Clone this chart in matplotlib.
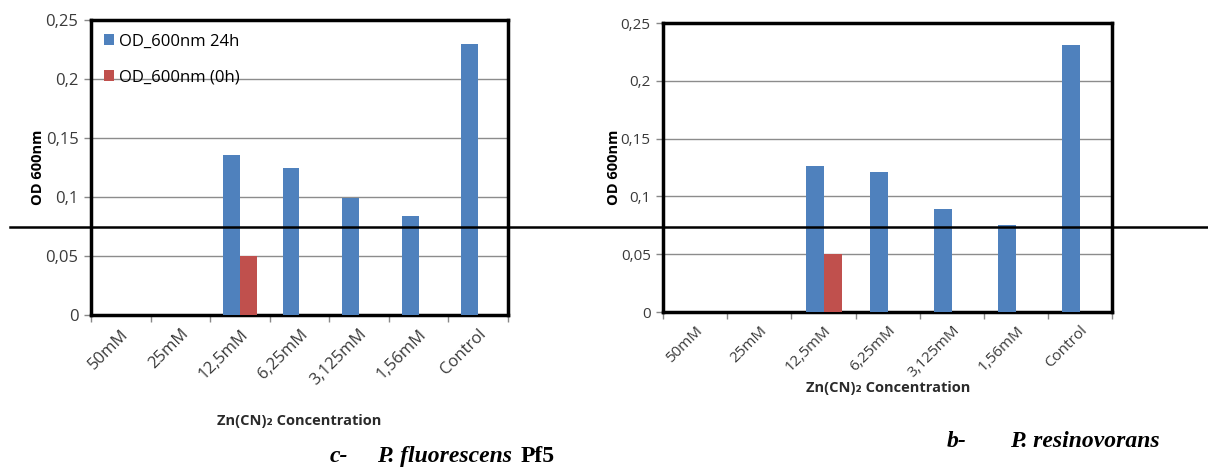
import numpy as np
import matplotlib.pyplot as plt
from matplotlib.lines import Line2D

categories = ["50mM", "25mM", "12,5mM", "6,25mM", "3,125mM", "1,56mM", "Control"]
yticks = [0, 0.05, 0.1, 0.15, 0.2, 0.25]
ytick_labels = ["0", "0,05", "0,1", "0,15", "0,2", "0,25"]

# panel c: P. fluorescens Pf5
pf5_24h = [0, 0, 0.136, 0.125, 0.099, 0.084, 0.230]
pf5_0h = [0, 0, 0.050, 0, 0, 0, 0]

# panel b: P. resinovorans
res_24h = [0, 0, 0.126, 0.121, 0.089, 0.075, 0.231]
res_0h = [0, 0, 0.050, 0, 0, 0, 0]

BLUE = "#4f81bd"
RED = "#c0504d"
TXT = "#3a3a3a"
FONT = ["Open Sans", "DejaVu Sans"]
SERIF = "Liberation Serif"


def draw_panel(ax, s24, s0, show_legend, xlabel_pad, fs):
    x = np.arange(len(categories))
    w = 0.28
    ax.bar(x - w / 2, s24, w, color=BLUE, label="OD_600nm 24h", zorder=3)
    ax.bar(x + w / 2, s0, w, color=RED, label="OD_600nm (0h)", zorder=3)
    ax.set_xlim(-0.5, len(categories) - 0.5)
    ax.set_ylim(0, 0.25)
    ax.set_yticks(yticks)
    ax.set_yticklabels(ytick_labels, fontsize=fs, color=TXT, family=FONT)
    ax.set_xticks(x)
    ax.set_xticklabels(categories, rotation=45, ha="right", rotation_mode="anchor",
                       fontsize=fs, color=TXT, family=FONT)
    ax.tick_params(axis="x", length=0, pad=8)
    ax.set_xticks(np.arange(len(categories) + 1) - 0.5, minor=True)
    ax.tick_params(axis="x", which="minor", length=5, color="#888888", width=1)
    ax.tick_params(axis="y", length=5, color="#888888", width=1, pad=4)
    ax.grid(axis="y", color="#8c8c8c", linewidth=1, zorder=0)
    for sp in ax.spines.values():
        sp.set_color("black")
        sp.set_linewidth(2.5)
    ax.set_ylabel("OD 600nm", fontsize=10.5, fontweight="bold", family=FONT)
    ax.set_xlabel("Zn(CN)\u2082 Concentration", fontsize=10.5, fontweight="bold",
                  color="#2a2a2a", family=FONT, labelpad=xlabel_pad)
    if show_legend:
        ax.legend(loc="upper left", frameon=False, handlelength=0.6,
                  handleheight=0.6, handletextpad=0.3, labelspacing=1.2,
                  borderaxespad=0.4, prop={"family": FONT, "size": fs})


fig = plt.figure(figsize=(12.08, 4.68), dpi=100)
ax1 = fig.add_axes([0.0753, 0.327, 0.3452, 0.630])
ax2 = fig.add_axes([0.549, 0.3333, 0.3717, 0.6175])

draw_panel(ax1, pf5_24h, pf5_0h, True, 18, 12)
draw_panel(ax2, res_24h, res_0h, False, 0, 11)
ax1.yaxis.set_label_coords(-0.11, 0.5)
ax2.yaxis.set_label_coords(-0.095, 0.5)

# captions
fig.text(0.273, 0.012, "c-", fontsize=17, fontweight="bold", style="italic",
         family=SERIF, ha="left")
fig.text(0.312, 0.012, "P. fluorescens", fontsize=17, fontweight="bold", style="italic",
         family=SERIF, ha="left")
fig.text(0.431, 0.012, "Pf5", fontsize=17, fontweight="bold",
         family=SERIF, ha="left")
fig.text(0.784, 0.045, "b-", fontsize=17, fontweight="bold", style="italic",
         family=SERIF, ha="left")
fig.text(0.836, 0.045, "P. resinovorans", fontsize=17, fontweight="bold", style="italic",
         family=SERIF, ha="left")

# horizontal black line across the figure
fig.add_artist(Line2D([0.008, 1.0], [0.515, 0.515], color="black", linewidth=1.8,
                      transform=fig.transFigure))

fig.savefig("out.png", dpi=100)
